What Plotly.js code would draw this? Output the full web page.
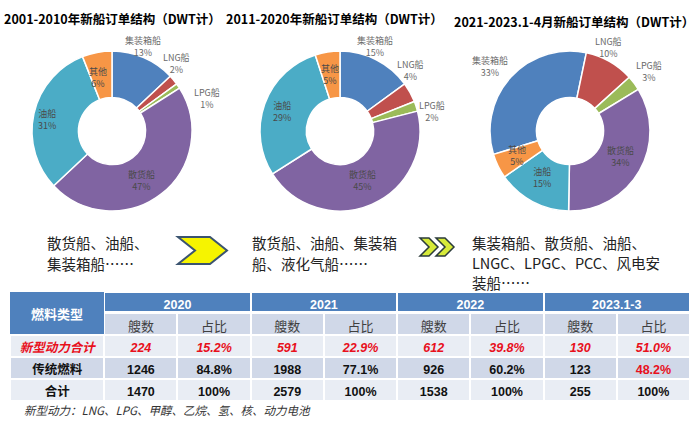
<!DOCTYPE html>
<html><head><meta charset="utf-8">
<script src="https://cdn.plot.ly/plotly-3.0.1.min.js"></script>
<style>html,body{margin:0;padding:0;background:#fff}</style>
</head><body><div id="chart" style="width:700px;height:424px"></div>
<script>
// ---------- data ----------
const shipTypes = ['集装箱船','LNG船','LPG船','散货船','油船','其他'];
const share2001_2010 = [13, 2, 1, 47, 31, 6];
const share2011_2020 = [15, 4, 2, 45, 29, 5];
const share2021_2023 = [33, 10, 3, 34, 15, 5];
const pieTitles = ['2001-2010年新船订单结构（DWT计）','2011-2020年新船订单结构（DWT计）','2021-2023.1-4月新船订单结构（DWT计）'];
const trendText1 = ['散货船、油船、','集装箱船……'];
const trendText2 = ['散货船、油船、集装箱','船、液化气船……'];
const trendText3 = ['集装箱船、散货船、油船、','LNGC、LPGC、PCC、风电安','装船……'];
const tableCorner = '燃料类型';
const tableYears = ['2020','2021','2022','2023.1-3'];
const subHeaders = ['艘数','占比'];
const fuelTypes = ['新型动力合计','传统燃料','合计'];
const newPowerCount = [224, 591, 612, 130];
const newPowerShare = ['15.2%','22.9%','39.8%','51.0%'];
const traditionalCount = [1246, 1988, 926, 123];
const traditionalShare = ['84.8%','77.1%','60.2%','48.2%'];
const totalCount = [1470, 2579, 1538, 255];
const totalShare = ['100%','100%','100%','100%'];
const footnote = '新型动力：LNG、LPG、甲醇、乙烷、氢、核、动力电池';

// ---------- styles / geometry ----------
const W = 700, H = 424;
const sliceColors = ['#4F81BD','#C0504D','#9BBB59','#8064A2','#4BACC6','#F79646'];
const CJK = '"Noto Sans CJK SC", "Noto Sans", sans-serif';
const LAT = '"Liberation Sans", "Noto Sans CJK SC", sans-serif';
const RED = '#E8101C';
const px = x => x / W, py = y => 1 - y / H;

function pieTrace(values, cx, cy, r, rotation) {
  return {type:'pie', labels: shipTypes, values: values, sort:false, direction:'clockwise',
    rotation: rotation, hole:0.42, textinfo:'none', hoverinfo:'skip',
    marker:{colors: sliceColors, line:{color:'#ffffff', width:1.5}},
    domain:{x:[px(cx - r), px(cx + r)], y:[py(cy + r), py(cy - r)]}};
}
const R = 80;
const pies = [
  {values: share2001_2010, cx:112, cy:131, rot:0,
   pos:[[143,46],[176,64],[207,98],[141,180],[47,120],[98,77]]},
  {values: share2011_2020, cx:340, cy:131, rot:0,
   pos:[[375,46],[410,70],[432,111],[362,180],[282,112],[330,75]]},
  {values: share2021_2023, cx:570, cy:131, rot:-107,
   pos:[[490,67],[608,48],[649,72],[620,157],[542,178],[517,155]]}
];
const outside = [[true,true,true,false,false,false],[true,true,true,false,false,false],[true,true,true,false,false,false]];

const data = pies.map(p => pieTrace(p.values, p.cx, p.cy, R, p.rot));

// ---------- tables ----------
const TX0 = 10, TX1 = 690;
const hdrBlue = '#4F81BD', band1 = '#D0D8E8', band2 = '#E9EDF4';
// year header row
data.push({type:'table', columnwidth:[94,146,146,146,146],
  domain:{x:[px(TX0), px(TX1)], y:[py(313), py(292)]},
  header:{values:[''].concat(tableYears), height:20, align:'center',
    fill:{color:hdrBlue}, line:{color:'#ffffff', width:2},
    font:{family:LAT, size:12.5, color:'#ffffff', weight:'bold'}},
  cells:{values:[]}
});
// body
const colVals = [fuelTypes];
const fontColors = [[RED,'#111','#111']];
const fontStyles = [['italic','normal','normal']];
const colHeaders = [''];
for (let j = 0; j < tableYears.length; j++) {
  colVals.push([String(newPowerCount[j]), String(traditionalCount[j]), String(totalCount[j])]);
  colVals.push([newPowerShare[j], traditionalShare[j], totalShare[j]]);
  colHeaders.push(subHeaders[0], subHeaders[1]);
  fontColors.push([RED,'#111','#111']);
  const tradRed = parseFloat(newPowerShare[j]) > parseFloat(traditionalShare[j]);
  fontColors.push([RED, tradRed ? RED : '#111', '#111']);
  fontStyles.push(['italic','normal','normal'], ['italic','normal','normal']);
}
const rowFills = colVals.map(() => [band2, band1, band2]);
data.push({type:'table', columnwidth:[94].concat(Array(8).fill(73)),
  domain:{x:[px(TX0), px(TX1)], y:[py(405), py(313)]},
  header:{values: colHeaders, height:22, align:'center',
    fill:{color:[hdrBlue].concat(Array(8).fill(band1))}, line:{color:'#ffffff', width:2},
    font:{family:CJK, size:13, color:'#404040'}},
  cells:{values: colVals, height:22, align:'center',
    fill:{color: rowFills}, line:{color:'#ffffff', width:2},
    font:{family:LAT, size:12.5, color: fontColors, weight:'bold', style: fontStyles}}
});

// ---------- annotations ----------
const annotations = [];
function ann(text, x, y, o) {
  o = o || {};
  annotations.push(Object.assign({text:text, x:px(x), y:py(y), xref:'paper', yref:'paper',
    showarrow:false, xanchor:'center', yanchor:'middle',
    font:Object.assign({family:CJK, size:12, color:'#000'}, o.font || {})}, o.extra || {}));
}
// titles
ann(pieTitles[0], 112, 19, {font:{size:12.5, weight:'bold'}});
ann(pieTitles[1], 334, 19, {font:{size:12.5, weight:'bold'}});
ann(pieTitles[2], 574, 21, {font:{size:12.5, weight:'bold'}});
// pie labels
pies.forEach((p, k) => {
  p.pos.forEach((xy, i) => {
    ann(shipTypes[i] + '<br>' + p.values[i] + '%', xy[0], xy[1],
      {font:{size:9, color: outside[k][i] ? '#6a6a6a' : '#4a4a4a'}});
  });
});
// trend texts
trendText1.forEach((t, i) => ann(t, 45, 243 + i * 20, {font:{size:14.5, color:'#222'}, extra:{xanchor:'left'}}));
trendText2.forEach((t, i) => ann(t, 250, 243 + i * 20, {font:{size:14.5, color:'#222'}, extra:{xanchor:'left'}}));
trendText3.forEach((t, i) => ann(t, 470, 242 + i * 20, {font:{size:14.5, color:'#222'}, extra:{xanchor:'left'}}));
// table corner
ann(tableCorner, 57, 313, {font:{size:13, color:'#ffffff', weight:'bold'}});
// footnote
ann(footnote, 22, 410, {font:{size:11.5, color:'#333', style:'italic'}, extra:{xanchor:'left'}});

// ---------- shapes ----------
function path(pts) {
  return 'M' + pts.map(p => px(p[0]) + ',' + py(p[1])).join(' L') + ' Z';
}
const shapes = [
  {type:'path', xref:'paper', yref:'paper', layer:'above',
   path: path([[178,237],[210,237],[227,250.5],[210,264],[178,264],[195,250.5]]),
   fillcolor:'#F6F400', line:{color:'#3B5470', width:2}},
  {type:'path', xref:'paper', yref:'paper', layer:'above',
   path: path([[420,238],[429,238],[438,247],[429,256],[420,256],[429,247]]),
   fillcolor:'#D6EA3A', line:{color:'#2B3B3B', width:1.5}},
  {type:'path', xref:'paper', yref:'paper', layer:'above',
   path: path([[436,238],[445,238],[454,247],[445,256],[436,256],[445,247]]),
   fillcolor:'#D6EA3A', line:{color:'#2B3B3B', width:1.5}},
  // merged corner cell of the table
  {type:'rect', xref:'paper', yref:'paper', layer:'above',
   x0:px(TX0), x1:px(104), y0:py(334), y1:py(292), fillcolor:hdrBlue, line:{width:0}}
];

const layout = {width:W, height:H, margin:{l:0,r:0,t:0,b:0}, showlegend:false,
  paper_bgcolor:'#ffffff', plot_bgcolor:'#ffffff', annotations:annotations, shapes:shapes};

Plotly.newPlot('chart', data, layout, {staticPlot:true, displayModeBar:false});
</script>
</body></html>
